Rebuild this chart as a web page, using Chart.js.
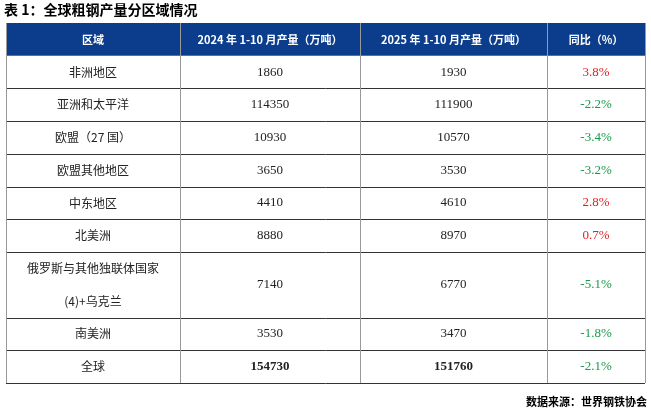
<!DOCTYPE html>
<html>
<head>
<meta charset="utf-8">
<script src="https://cdn.jsdelivr.net/npm/chart.js@4"></script>
<style>
  body { margin: 0; background: #fff; }
  canvas { display: block; }
</style>
</head>
<body>
<canvas id="tableChart" width="651" height="412"></canvas>
<script>
// Table data
const headers = ['区域', '2024 年 1-10 月产量（万吨）', '2025 年 1-10 月产量（万吨）', '同比（%）'];
const regions = ['非洲地区', '亚洲和太平洋', '欧盟（27 国）', '欧盟其他地区', '中东地区', '北美洲', ['俄罗斯与其他独联体国家', '(4)+乌克兰'], '南美洲', '全球'];
const output2024 = [1860, 114350, 10930, 3650, 4410, 8880, 7140, 3530, 154730];
const output2025 = [1930, 111900, 10570, 3530, 4610, 8970, 6770, 3470, 151760];
const yoyChange = [3.8, -2.2, -3.4, -3.2, 2.8, 0.7, -5.1, -1.8, -2.1];

const rowSpans = [1, 1, 1, 1, 1, 1, 2, 1, 1];
const colEdges = [0, 174, 354, 541, 639];
const totalRows = 1 + rowSpans.reduce((a, b) => a + b, 0);

const CJK = '"Noto Sans CJK SC", sans-serif';
const SERIF = '"Liberation Serif", "DejaVu Serif", serif';

const tablePlugin = {
    id: 'tablePlugin',
    afterDraw(chart) {
        const ctx = chart.ctx;
        const xs = chart.scales.x, ys = chart.scales.y;
        const px = v => xs.getPixelForValue(v);
        const py = v => ys.getPixelForValue(v);
        ctx.save();

        // title and source
        ctx.fillStyle = '#000';
        ctx.font = 'bold 14px ' + CJK;
        ctx.textAlign = 'left';
        ctx.textBaseline = 'middle';
        ctx.fillText('表 1：全球粗钢产量分区域情况', 4, 10);
        ctx.font = 'bold 11px ' + CJK;
        ctx.textAlign = 'right';
        ctx.fillText('数据来源：世界钢铁协会', 647, 402);

        // header
        ctx.fillStyle = '#0b3d8c';
        ctx.fillRect(px(0), py(0), px(colEdges[4]) - px(0), py(1) - py(0));
        ctx.fillStyle = '#fff';
        ctx.font = 'bold 11px ' + CJK;
        ctx.textAlign = 'center';
        headers.forEach((h, i) => {
            ctx.fillText(h, (px(colEdges[i]) + px(colEdges[i + 1])) / 2, (py(0) + py(1)) / 2);
        });

        // body rows
        let r = 1;
        regions.forEach((name, i) => {
            const top = py(r), bot = py(r + rowSpans[i]);
            const mid = (top + bot) / 2;
            const cx = c => (px(colEdges[c]) + px(colEdges[c + 1])) / 2;
            ctx.fillStyle = '#222';
            ctx.font = '12px ' + CJK;
            if (Array.isArray(name)) {
                ctx.fillText(name[0], cx(0), top + (bot - top) * 0.25);
                ctx.fillText(name[1], cx(0), top + (bot - top) * 0.75);
            } else {
                ctx.fillText(name, cx(0), mid);
            }
            const bold = i === regions.length - 1 ? 'bold ' : '';
            ctx.font = bold + '13px ' + SERIF;
            ctx.fillText(String(output2024[i]), cx(1), mid);
            ctx.fillText(String(output2025[i]), cx(2), mid);
            ctx.font = '13px ' + SERIF;
            ctx.fillStyle = yoyChange[i] >= 0 ? '#e02020' : '#1a9a4a';
            ctx.fillText(yoyChange[i].toFixed(1) + '%', cx(3), mid);
            // row border
            ctx.strokeStyle = '#333';
            ctx.lineWidth = 1;
            ctx.beginPath();
            ctx.moveTo(px(0), Math.round(bot) + 0.5);
            ctx.lineTo(px(colEdges[4]), Math.round(bot) + 0.5);
            ctx.stroke();
            r += rowSpans[i];
        });

        // vertical lines
        ctx.strokeStyle = '#999';
        colEdges.forEach(c => {
            ctx.beginPath();
            ctx.moveTo(Math.round(px(c)) + 0.5, py(0));
            ctx.lineTo(Math.round(px(c)) + 0.5, py(totalRows));
            ctx.stroke();
        });
        ctx.restore();
    }
};

new Chart(document.getElementById('tableChart'), {
    type: 'scatter',
    data: { datasets: [{ data: [] }] },
    options: {
        responsive: false,
        animation: false,
        layout: { padding: { left: 6, right: 6, top: 23, bottom: 29 } },
        plugins: { legend: { display: false }, tooltip: { enabled: false } },
        scales: {
            x: { type: 'linear', min: 0, max: colEdges[4], display: false },
            y: { type: 'linear', min: 0, max: totalRows, reverse: true, display: false }
        }
    },
    plugins: [tablePlugin]
});
</script>
</body>
</html>
